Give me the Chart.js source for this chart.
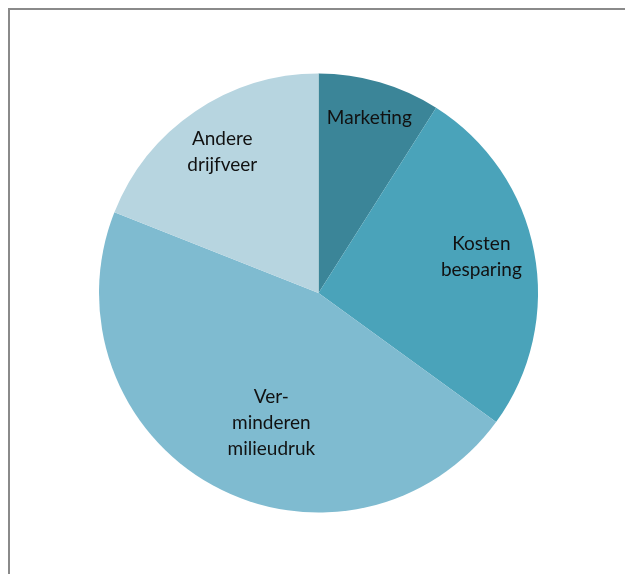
<!DOCTYPE html>
<html>
<head>
<meta charset="utf-8">
<script src="https://cdn.jsdelivr.net/npm/chart.js@4/dist/chart.umd.min.js"></script>
<style>
  html, body { margin: 0; padding: 0; background: #ffffff; }
  #wrap { position: relative; width: 625px; height: 574px; }
</style>
</head>
<body>
<div id="wrap"><canvas id="c" width="625" height="574"></canvas></div>
<script>
const categories = ["Marketing", "Kosten besparing", "Verminderen milieudruk", "Andere drijfveer"];
const labelLines = [["Marketing"], ["Kosten", "besparing"], ["Ver-", "minderen", "milieudruk"], ["Andere", "drijfveer"]];
const values = [9, 26, 46, 19];
const colors = ["#3B8598", "#4AA3BA", "#7FBBD0", "#B7D5E0"];

const frame = {
  id: 'frame',
  beforeDraw(chart) {
    const ctx = chart.ctx;
    ctx.save();
    ctx.fillStyle = '#ffffff';
    ctx.fillRect(0, 0, chart.width, chart.height);
    ctx.strokeStyle = '#8a8a8a';
    ctx.lineWidth = 2;
    ctx.strokeRect(9, 9, chart.width + 50, chart.height + 50);
    ctx.restore();
  }
};

const sliceLabels = {
  id: 'sliceLabels',
  afterDatasetsDraw(chart) {
    const ctx = chart.ctx;
    const meta = chart.getDatasetMeta(0);
    const frac = [0.83, 0.76, 0.63, 0.78];
    const shift = [0, -0.03, -0.155, 0];
    ctx.save();
    ctx.font = '19px Lato, "Open Sans", sans-serif';
    ctx.fillStyle = '#111111';
    ctx.textAlign = 'center';
    ctx.textBaseline = 'middle';
    meta.data.forEach((arc, i) => {
      const p = arc.getProps(['x', 'y', 'startAngle', 'endAngle', 'outerRadius'], true);
      const mid = (p.startAngle + p.endAngle) / 2 + shift[i];
      const r = p.outerRadius * frac[i];
      const cx = p.x + Math.cos(mid) * r;
      const cy = p.y + Math.sin(mid) * r;
      const lines = labelLines[i];
      const lh = 26;
      lines.forEach((t, k) => {
        ctx.fillText(t, cx, cy + (k - (lines.length - 1) / 2) * lh);
      });
    });
    ctx.restore();
  }
};

new Chart(document.getElementById('c'), {
  type: 'pie',
  data: {
    labels: categories,
    datasets: [{
      data: values,
      backgroundColor: colors,
      borderWidth: 0
    }]
  },
  options: {
    responsive: false,
    animation: false,
    layout: { padding: { top: 73, bottom: 61, left: 99, right: 87 } },
    plugins: {
      legend: { display: false },
      tooltip: { enabled: false }
    }
  },
  plugins: [frame, sliceLabels]
});
</script>
</body>
</html>
